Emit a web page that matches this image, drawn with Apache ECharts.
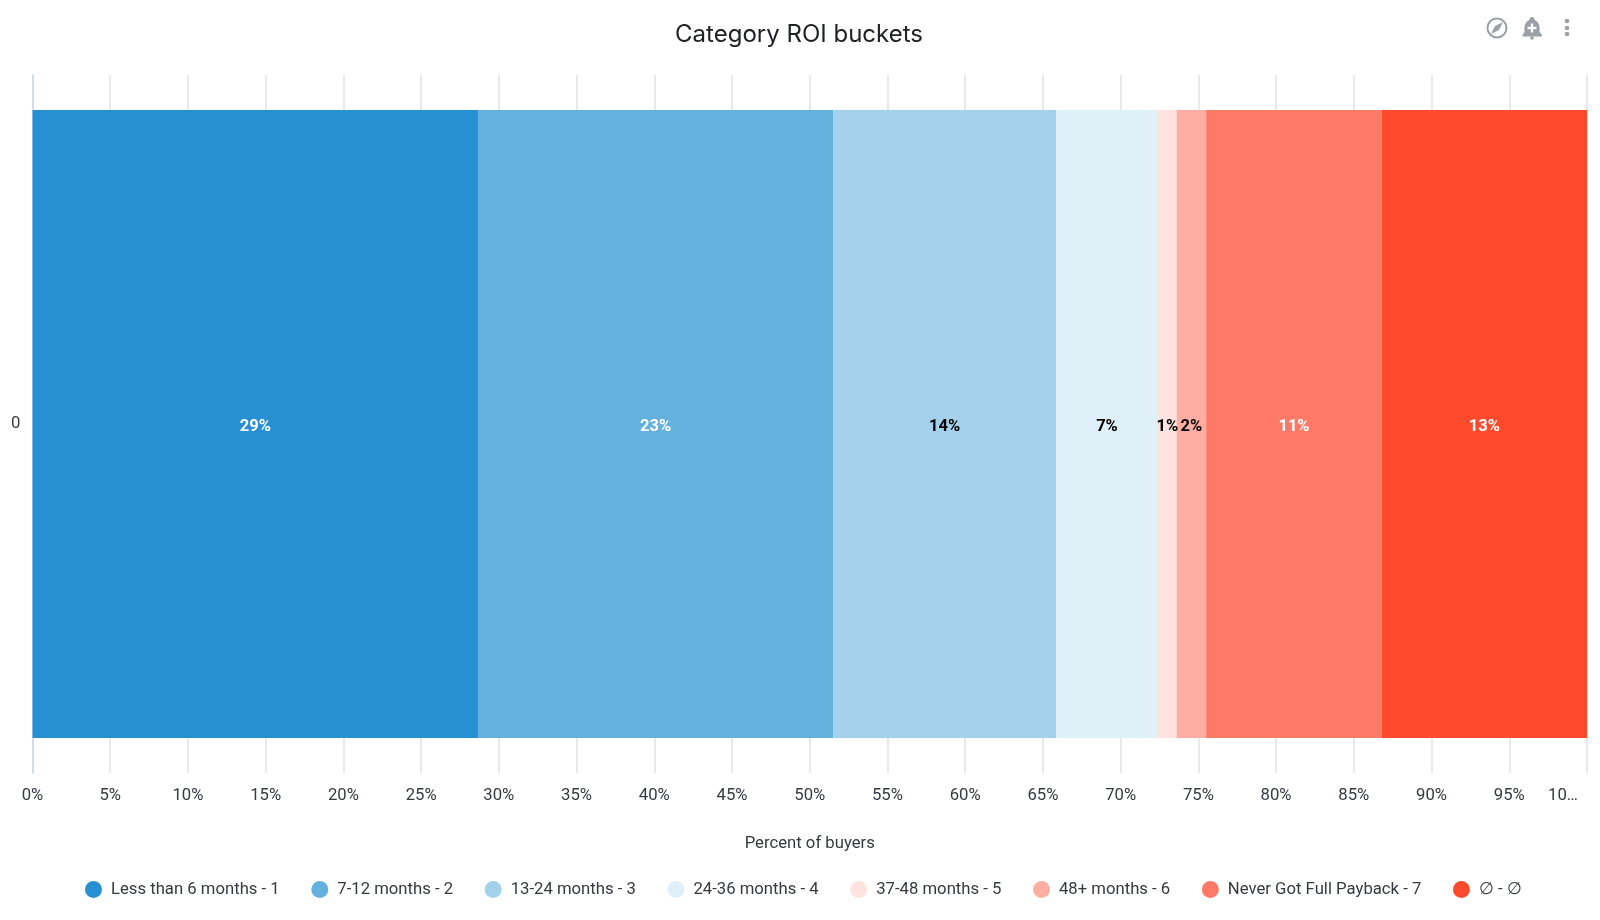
<!DOCTYPE html>
<html lang="en">
<head>
<meta charset="utf-8" />
<title>Category ROI buckets</title>
<style>
  html, body { margin: 0; padding: 0; background: #fff; }
  #chart { width: 1600px; height: 920px; }
</style>
</head>
<body>
<div id="chart"></div>
<script src="https://cdn.jsdelivr.net/npm/echarts@6/dist/echarts.min.js"></script>
<script>
var categories = ['0'];
var bucketNames = ['Less than 6 months - 1', '7-12 months - 2', '13-24 months - 3', '24-36 months - 4',
    '37-48 months - 5', '48+ months - 6', 'Never Got Full Payback - 7', '∅ - ∅'];
var bucketValues = [28.66, 22.84, 14.34, 6.56, 1.2, 1.9, 11.3, 13.2];
var bucketLabels = ['29%', '23%', '14%', '7%', '1%', '2%', '11%', '13%'];

var colors = ['#2690d2', '#65b1de', '#a3d0ea', '#e0f0f8', '#ffe3df', '#ffaea1', '#ff7967', '#ff4b2b'];
var labelColors = ['#fff', '#fff', '#000', '#000', '#000', '#000', '#fff', '#fff'];
var textColor = '#36393f';
var iconColor = '#9aa0a6';
var font = 'Roboto';

var chart = echarts.init(document.getElementById('chart'));

var series = [];
for (var i = 0; i < bucketNames.length; i++) {
    series.push({
        name: bucketNames[i],
        type: 'bar',
        stack: 'total',
        barWidth: '90%',
        data: [bucketValues[i]],
        itemStyle: { color: colors[i] },
        label: {
            show: true,
            position: 'inside',
            offset: [0, 2.8],
            formatter: bucketLabels[i],
            color: labelColors[i],
            fontFamily: font,
            fontWeight: 'bold',
            fontSize: 16.5
        }
    });
}

var option = {
    animation: false,
    backgroundColor: '#fff',
    title: {
        text: 'Category ROI buckets',
        left: 794,
        top: 18,
        textAlign: 'center',
        textStyle: { fontFamily: 'Inter', fontWeight: 'normal', fontSize: 24, color: '#202124' }
    },
    legend: {
        left: 80,
        top: 876,
        itemWidth: 17,
        itemHeight: 17,
        itemGap: 31.6,
        icon: 'circle',
        data: bucketNames,
        textStyle: { fontFamily: font, fontSize: 16.7, color: textColor, padding: [0, 0, 0, 4] }
    },
    grid: { left: 32.5, right: 13, top: 75, bottom: 147 },
    xAxis: {
        type: 'value',
        min: 0,
        max: 100,
        interval: 5,
        name: 'Percent of buyers',
        nameLocation: 'middle',
        nameGap: 62,
        nameTextStyle: { fontFamily: font, fontSize: 16.7, color: textColor },
        axisLine: { show: false },
        axisTick: { show: false },
        splitLine: { show: true, lineStyle: { color: '#e8e9ec', width: 2 } },
        axisLabel: {
            margin: 14,
            fontFamily: font,
            fontSize: 16.7,
            color: textColor,
            formatter: function (v) {
                return v === 100 ? '{last|10…}' : v + '%';
            },
            rich: {
                last: { fontFamily: font, fontSize: 16.7, color: textColor, padding: [0, 48, 0, 0] }
            }
        }
    },
    yAxis: {
        type: 'category',
        data: categories,
        axisLine: { show: true, lineStyle: { color: '#d5dcef', width: 2 } },
        axisTick: { show: false },
        axisLabel: { margin: 12, padding: [4, 0, 0, 0], fontFamily: font, fontSize: 16.7, color: textColor }
    },
    series: series,
    // toolbar icons in the top right corner
    graphic: [
        { type: 'circle', shape: { cx: 1497, cy: 28, r: 9.5 }, style: { fill: 'none', stroke: iconColor, lineWidth: 2 } },
        { type: 'polygon', shape: { points: [[1503, 22], [1499, 30], [1491, 34], [1495, 26]] }, style: { fill: iconColor } },
        { type: 'circle', shape: { cx: 1532, cy: 19.5, r: 2.5 }, style: { fill: iconColor } },
        { type: 'circle', shape: { cx: 1532, cy: 27, r: 7.5 }, style: { fill: iconColor } },
        { type: 'polygon', shape: { points: [[1524.5, 27], [1539.5, 27], [1539.5, 32], [1542, 35], [1542, 36.5], [1522.5, 36.5], [1522.5, 35], [1524.5, 32]] }, style: { fill: iconColor } },
        { type: 'circle', shape: { cx: 1532, cy: 38, r: 1.8 }, style: { fill: iconColor } },
        { type: 'rect', shape: { x: 1527.5, y: 26.8, width: 9, height: 2.4 }, style: { fill: '#fff' } },
        { type: 'rect', shape: { x: 1530.8, y: 23.5, width: 2.4, height: 9 }, style: { fill: '#fff' } },
        { type: 'circle', shape: { cx: 1567, cy: 21, r: 2.3 }, style: { fill: iconColor } },
        { type: 'circle', shape: { cx: 1567, cy: 28, r: 2.3 }, style: { fill: iconColor } },
        { type: 'circle', shape: { cx: 1567, cy: 34, r: 2.3 }, style: { fill: iconColor } }
    ]
};

chart.setOption(option);
</script>
</body>
</html>
